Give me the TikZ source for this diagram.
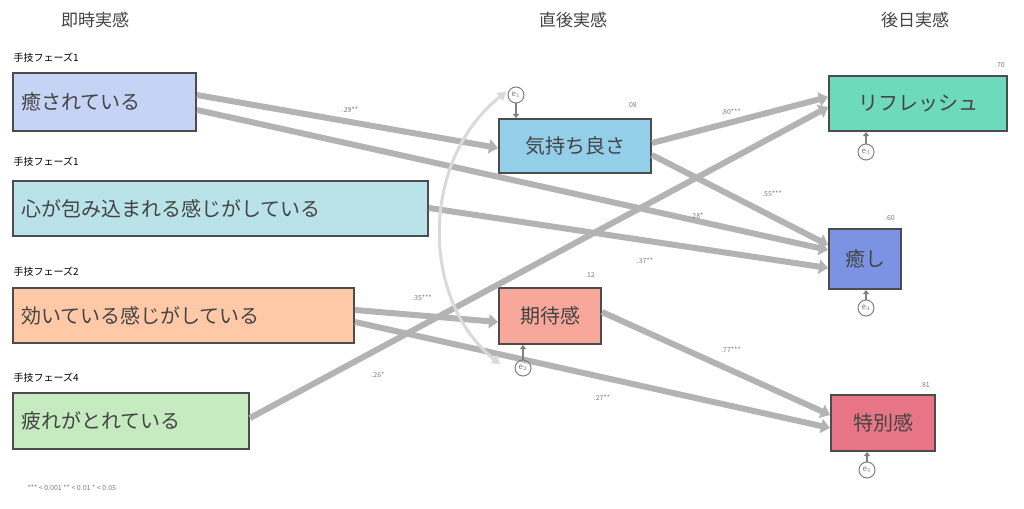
\documentclass[tikz,border=0pt]{standalone}
\usepackage{fontspec}
\setmainfont{Noto Sans CJK JP}
\usetikzlibrary{arrows.meta}
\definecolor{ar}{HTML}{B3B3B3}
\definecolor{tx}{HTML}{444444}
\definecolor{ca}{HTML}{C5D3F5}
\definecolor{cb}{HTML}{B9E3E8}
\definecolor{cc}{HTML}{FFC9A8}
\definecolor{cd}{HTML}{C6EBC0}
\definecolor{cm1}{HTML}{94CFE9}
\definecolor{cm2}{HTML}{F8A89A}
\definecolor{cr1}{HTML}{6DD9BD}
\definecolor{cr2}{HTML}{7B93E2}
\definecolor{cr3}{HTML}{E87585}
\begin{document}
\begin{tikzpicture}[x=1pt,y=-1pt,
 box/.style={draw=black!70,line width=2pt,text=tx,font=\fontsize{20}{20}\selectfont,inner sep=0pt,anchor=north west},
 pa/.style={draw=ar,line width=6pt,-{Triangle[length=9pt,width=14pt]}},
 lab/.style={font=\fontsize{7}{7}\selectfont,text=gray},
 hd/.style={font=\fontsize{17}{17}\selectfont,text=tx},
 ph/.style={font=\fontsize{10}{10}\selectfont,text=black,anchor=west},
 err/.style={circle,draw=gray,line width=1pt,minimum size=16pt,inner sep=0pt,font=\fontsize{8}{8}\selectfont,text=gray},
 ea/.style={draw=gray,line width=1.5pt,-{Triangle[length=4pt,width=6pt]}}]
\useasboundingbox (0,0) rectangle (1024,508);
\fill[white] (0,0) rectangle (1024,508);
\node[hd] (h1) at (95,20) {即時実感};
\node[hd] (h2) at (573,20) {直後実感};
\node[hd] (h3) at (915,20) {後日実感};
\node[ph] (p1) at (10,58) {手技フェーズ1};
\node[ph] (p2) at (10,162) {手技フェーズ1};
\node[ph] (p3) at (10,272) {手技フェーズ2};
\node[ph] (p4) at (10,378) {手技フェーズ4};
\node[box,fill=ca] at (12,72) (a) {\parbox[c][58pt]{183pt}{\hspace*{8pt}癒されている}};
\node[box,fill=cb] at (12,180) (b) {\parbox[c][55pt]{415pt}{\hspace*{8pt}心が包み込まれる感じがしている}};
\node[box,fill=cc] at (12,287) (c) {\parbox[c][55pt]{341pt}{\hspace*{8pt}効いている感じがしている}};
\node[box,fill=cd] at (12,392) (d) {\parbox[c][56pt]{236pt}{\hspace*{8pt}疲れがとれている}};
\node[box,fill=cm1] at (498,118) (m1) {\parbox[c][54pt]{152pt}{\centering 気持ち良さ}};
\node[box,fill=cm2] at (498,287) (m2) {\parbox[c][56pt]{102pt}{\centering 期待感}};
\node[box,fill=cr1] at (828,75) (r1) {\parbox[c][55pt]{178pt}{\centering リフレッシュ}};
\node[box,fill=cr2] at (828,228) (r2) {\parbox[c][60pt]{72pt}{\centering 癒し}};
\node[box,fill=cr3] at (830,394) (r3) {\parbox[c][56pt]{104pt}{\centering 特別感}};
% paths
\draw[pa] ([yshift=-23pt]a.north east) -- ([yshift=-30pt]m1.north west);
\draw[pa] ([yshift=-38pt]a.north east) -- ([yshift=-22pt]r2.north west);
\draw[pa] ([yshift=-28pt]b.north east) -- ([yshift=-40pt]r2.north west);
\draw[pa] ([yshift=-23pt]c.north east) -- ([yshift=-35pt]m2.north west);
\draw[pa] ([yshift=-35pt]c.north east) -- ([yshift=-34pt]r3.north west);
\draw[pa] ([yshift=-26pt]d.north east) -- ([yshift=-32pt]r1.north west);
\draw[pa] ([yshift=-25pt]m1.north east) -- ([yshift=-22pt]r1.north west);
\draw[pa] ([yshift=-37pt]m1.north east) -- ([yshift=-17pt]r2.north west);
\draw[pa] ([yshift=-25pt]m2.north east) -- ([yshift=-21pt]r3.north west);
\coordinate (ct) at (506,92);
\coordinate (cb) at (500,364);
\draw[draw=black!15,line width=3pt,{Triangle[length=8pt,width=10pt]}-{Triangle[length=8pt,width=10pt]}] (ct) .. controls (420,160) and (420,300) .. (cb);
% errors
\node[err] (e1) at (516,95) {e$_1$};
\draw[ea] (e1) -- (m1.north west -| e1);
\node[err] (e2) at (523,368) {e$_2$};
\draw[ea] (e2) -- (m2.south west -| e2);
\node[err] (e3) at (866,152) {e$_3$};
\draw[ea] (e3) -- (r1.south west -| e3);
\node[err] (e4) at (866,308) {e$_4$};
\draw[ea] (e4) -- (r2.south west -| e4);
\node[err] (e5) at (867,470) {e$_5$};
\draw[ea] (e5) -- (r3.south west -| e5);
% labels
\node[lab] (l1) at (350,110) {.29**};
\node[lab] (l2) at (697,216) {.28*};
\node[lab] (l3) at (645,261) {.37**};
\node[lab] (l4) at (422,298) {.35***};
\node[lab] (l5) at (602,398) {.27**};
\node[lab] (l6) at (378,375) {.26*};
\node[lab] (l7) at (731,112) {.80***};
\node[lab] (l8) at (772,194) {.55***};
\node[lab] (l9) at (731,350) {.77***};
\node[lab] (q1) at (632,105) {.08};
\node[lab] (q2) at (590,275) {.12};
\node[lab] (q3) at (1000,65) {.70};
\node[lab] (q4) at (890,218) {.60};
\node[lab] (q5) at (925,385) {.81};
\node[lab,anchor=west] (fn) at (24,488) {*** < 0.001 ** < 0.01 * < 0.05};
\end{tikzpicture}
\end{document}
